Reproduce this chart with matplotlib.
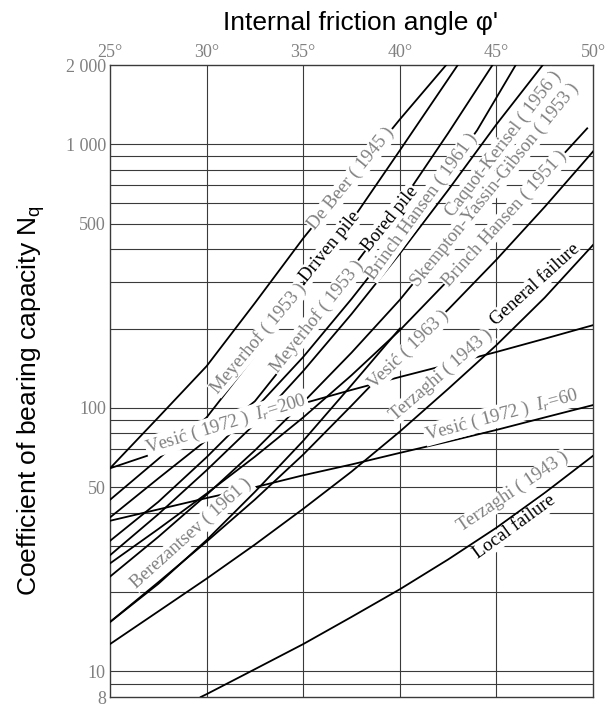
import matplotlib
matplotlib.use('Agg')
import matplotlib.pyplot as plt

plt.rcParams['mathtext.fontset'] = 'custom'
plt.rcParams['mathtext.it'] = 'Liberation Serif:italic'
plt.rcParams['mathtext.rm'] = 'Liberation Serif'

GRAY = '#808080'
SERIF = 'Liberation Serif'
SANS = ['Liberation Sans', 'DejaVu Sans']

# DATA: internal friction angle (deg) -> Nq
de_beer_phi = [25, 27.5, 30, 32.5, 35, 37.5, 40, 42.4]
de_beer_nq = [59, 92, 144, 250, 440, 741, 1243, 2000]

mey_driven_phi = [25, 27.5, 30, 32.5, 35, 37.5, 40, 42.5, 43.0]
mey_driven_nq = [44.8, 64, 92, 158, 292, 512, 948, 1766, 2000]

mey_bored_phi = [25, 27.5, 30, 32.5, 35, 37.5, 40, 42.5, 44.8]
mey_bored_nq = [38.4, 54, 75.5, 106, 180, 336, 590, 1102, 2000]

bh61_phi = [25, 27.5, 30, 32.5, 35, 37.5, 40, 42.5, 44, 46]
bh61_nq = [31.3, 44, 65, 99, 156, 259, 443, 796, 1130, 2000]

caquot_phi = [25, 27.5, 30, 32.5, 35, 37.5, 40, 42.5, 45, 47.4]
caquot_nq = [27.6, 39.5, 58, 87, 138, 227, 385, 670, 1190, 2000]

skempton_phi = [25, 27.5, 30, 32.5, 35, 37.5, 40, 42.5, 45, 47.5, 48.9]
skempton_nq = [22.9, 32.4, 46.8, 69, 105, 162, 257, 431, 724, 1216, 1580]

bh51_phi = [25, 27.5, 30, 32.5, 35, 37.5, 40, 42.5, 45, 47.5, 49.7]
bh51_nq = [25.7, 34.7, 47.3, 65.3, 92, 133, 197, 305, 484, 767, 1150]

vesic63_phi = [25, 27.5, 30, 32.5, 35, 37.5, 40, 42.5, 45, 47.5, 50]
vesic63_nq = [15.4, 21.8, 31.1, 44.9, 66.5, 102, 158, 236, 365, 579, 939]

berez_phi = [25, 27.5, 30, 32.5, 35, 37.5, 40]
berez_nq = [15.4, 21.5, 31.5, 48, 75, 122, 200]

terz_gen_phi = [25, 27.5, 30, 32.5, 35, 37.5, 40, 42.5, 45, 47.5, 50]
terz_gen_nq = [12.7, 16.9, 22.5, 30.3, 41.4, 57.3, 81.3, 118, 173, 262, 415]

terz_loc_phi = [29.7, 30, 32.5, 35, 37.5, 40, 42.5, 45, 47.5, 50]
terz_loc_nq = [8.0, 8.2, 10.2, 12.7, 16.1, 20.5, 26.6, 35.1, 47.6, 65.8]

vesic200_phi = [25, 27.5, 30, 32.5, 35, 37.5, 40, 42.5, 45, 47.5, 50]
vesic200_nq = [59, 68, 79, 91, 104, 117, 131, 146, 163, 183, 206]

vesic60_phi = [25, 30, 32.5, 35, 37.5, 40, 42.5, 45, 47.5, 50]
vesic60_nq = [37.3, 45.5, 50, 55.5, 61, 67.5, 74.5, 82.5, 92, 102.5]

curves = [
    (de_beer_phi, de_beer_nq), (mey_driven_phi, mey_driven_nq),
    (mey_bored_phi, mey_bored_nq), (bh61_phi, bh61_nq),
    (caquot_phi, caquot_nq), (skempton_phi, skempton_nq),
    (bh51_phi, bh51_nq), (vesic63_phi, vesic63_nq),
    (berez_phi, berez_nq), (terz_gen_phi, terz_gen_nq),
    (terz_loc_phi, terz_loc_nq), (vesic200_phi, vesic200_nq),
    (vesic60_phi, vesic60_nq),
]

# curve labels: text, phi, Nq, rotation, colour
label_text = ['De Beer ( 1945 )', 'Meyerhof ( 1953 )', 'Driven pile',
              'Meyerhof ( 1953 )', 'Bored pile', 'Brinch Hansen ( 1961 )',
              'Caquot-Kerisel ( 1956 )', 'Skempton-Yassin-Gibson ( 1953 )',
              'Brinch Hansen ( 1951 )', 'Vesić ( 1963 )', 'Terzaghi ( 1943 )',
              'General failure', 'Vesić ( 1972 )  $I_r$=200',
              'Vesić ( 1972 )  $I_r$=60', 'Berezantsev ( 1961 )',
              'Terzaghi ( 1943 )', 'Local failure']
label_phi = [37.50, 32.69, 36.39, 35.69, 39.49, 41.15, 45.37, 44.93, 45.45,
             40.45, 42.16, 46.99, 31.03, 45.26, 29.22, 45.86, 45.96]
label_nq = [742, 183, 410, 222, 521, 581, 1007, 701, 522, 166, 133, 292.5,
            86.9, 93.9, 33.4, 48.0, 35.2]
label_rot = [51, 50, 51, 51.5, 51, 54, 52.5, 51, 48, 44, 41, 42, 17, 15, 42,
             34, 36]
label_dark = [False, False, True, False, True, False, False, False, False,
              False, False, True, False, False, False, False, True]

phi_ticks = [25, 30, 35, 40, 45, 50]
nq_ticks = [8, 10, 50, 100, 500, 1000, 2000]
nq_tick_labels = ['8', '10', '50', '100', '500', '1 000', '2 000']
nq_grid = [9, 10, 20, 30, 40, 50, 60, 70, 80, 90, 100,
           200, 300, 400, 500, 600, 700, 800, 900, 1000]
phi_grid = [30, 35, 40, 45]

fig = plt.figure(figsize=(6.16, 7.06), dpi=100)
ax = fig.add_axes([110 / 616, 9 / 706, 483 / 616, 632 / 706])
ax.set_yscale('log')
ax.set_xlim(25, 50)
ax.set_ylim(8, 2000)

for v in nq_grid:
    ax.axhline(v, color='#3a3a3a', lw=0.8, zorder=1)
for v in phi_grid:
    ax.axvline(v, color='#3a3a3a', lw=0.8, zorder=1)

for phi, nq in curves:
    ax.plot(phi, nq, color='black', lw=1.3, zorder=3, clip_on=True)

for t, p, n, r, dark in zip(label_text, label_phi, label_nq, label_rot, label_dark):
    ax.text(p, n, t, rotation=r, rotation_mode='anchor', ha='center',
            va='center', fontsize=13.5, family=SERIF,
            color='black' if dark else GRAY, zorder=4,
            bbox=dict(facecolor='white', edgecolor='none', pad=0.5))

ax.xaxis.tick_top()
ax.set_xticks(phi_ticks)
ax.set_xticklabels([f'{p}°' for p in phi_ticks], family=SERIF, fontsize=13,
                   color=GRAY)
ax.set_yticks(nq_ticks)
ax.set_yticklabels(nq_tick_labels, family=SERIF, fontsize=13, color=GRAY)
ax.yaxis.set_minor_locator(matplotlib.ticker.NullLocator())
ax.tick_params(length=0, pad=3)
for s in ax.spines.values():
    s.set_color('#3a3a3a')
    s.set_linewidth(1.0)

fig.text(0.586, 0.967, "Internal friction angle φ'", ha='center', va='center',
         fontsize=19, family=SANS)
fig.text(0.05, 0.433, 'Coefficient of bearing capacity $\\mathregular{N_q}$',
         rotation=90, ha='center', va='center', fontsize=19, family=SANS)

fig.savefig('out.png', dpi=100)
